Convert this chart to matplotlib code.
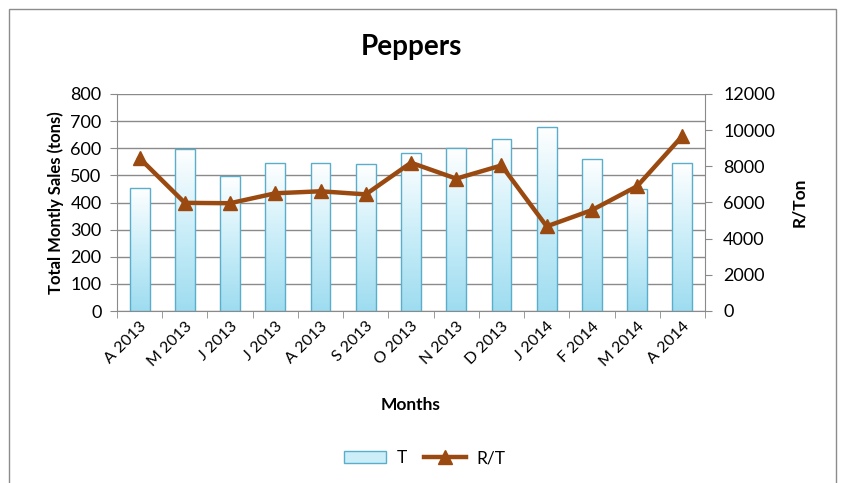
import matplotlib
matplotlib.use("Agg")
import matplotlib.pyplot as plt
import numpy as np
from matplotlib.patches import Rectangle
from matplotlib.colors import LinearSegmentedColormap

months = ["A 2013", "M 2013", "J 2013", "J 2013", "A 2013", "S 2013", "O 2013",
          "N 2013", "D 2013", "J 2014", "F 2014", "M 2014", "A 2014"]
tons = [455, 597, 497, 544, 544, 541, 581, 600, 633, 678, 559, 448, 544]
rand_per_ton = [8450, 5980, 5960, 6510, 6620, 6450, 8200, 7320, 8050, 4680, 5580, 6900, 9680]

plt.rcParams['font.family'] = ['Lato', 'DejaVu Sans']

fig = plt.figure(figsize=(8.43, 4.83), dpi=100)
fig.patch.set_facecolor('white')
fig.add_artist(Rectangle((9/843, -0.01), (836-9)/843, (483-9)/483 + 0.01,
                         transform=fig.transFigure, fill=False, edgecolor='#8c8c8c', lw=1.0))

ax = fig.add_axes([117/843, 1-311/483, (705-117)/843, (311-94)/483])
x = np.arange(len(months))
bars = ax.bar(x, tons, width=0.44, color='none', edgecolor='#5aaecb', linewidth=1.0, zorder=3)

cmap = LinearSegmentedColormap.from_list('bg', [(0, '#9edcf0'), (0.5, '#cbeef9'), (1, '#ffffff')])
grad = np.linspace(0, 1, 256).reshape(-1, 1)
for b in bars:
    x0, y0 = b.get_x(), b.get_y()
    w, h = b.get_width(), b.get_height()
    im = ax.imshow(grad, extent=(x0, x0 + w, y0, y0 + h), origin='lower', aspect='auto',
                   cmap=cmap, zorder=2)
    im.set_clip_path(b)

ax.set_xlim(-0.5, len(months) - 0.5)
ax.set_ylim(0, 800)
ax.set_yticks(np.arange(0, 801, 100))
ax.grid(axis='y', color='#8a8a8a', linewidth=1.0, zorder=0)
ax.set_axisbelow(True)
for s in ['top', 'right']:
    ax.spines[s].set_visible(False)
ax.spines['left'].set_color('#8a8a8a')
ax.spines['bottom'].set_color('#8a8a8a')
ax.set_xticks(x)
ax.set_xticklabels(months, rotation=45, ha='right', rotation_mode='anchor', fontsize=11.5)
ax.set_xticks(np.arange(-0.5, len(months), 1), minor=True)
ax.tick_params(axis='x', which='major', length=0, pad=6)
ax.tick_params(axis='x', which='minor', length=5, color='#8a8a8a', direction='out')
ax.tick_params(axis='y', length=5, color='#8a8a8a', labelsize=13, pad=6)
ax.set_ylabel('Total Montly Sales (tons)', fontsize=12, fontweight='bold', labelpad=5)
ax.set_xlabel('Months', fontsize=12.5, fontweight='bold', labelpad=20)

ax2 = ax.twinx()
ax2.set_ylim(0, 12000)
ax2.set_yticks(np.arange(0, 12001, 2000))
line, = ax2.plot(x, rand_per_ton, color='#9a4a10', linewidth=3.2, marker='^',
                 markersize=10, zorder=5)
for s in ['top', 'left', 'bottom']:
    ax2.spines[s].set_visible(False)
ax2.spines['right'].set_color('#8a8a8a')
ax2.tick_params(axis='y', length=5, color='#8a8a8a', labelsize=13, pad=8)
ax2.set_ylabel('R/Ton', fontsize=12.5, fontweight='bold', labelpad=12)

fig.text(0.4875, 1-47/483, 'Peppers', ha='center', va='center', fontsize=20, fontweight='bold')

proxy = Rectangle((0, 0), 1, 1, facecolor='#cbeef9', edgecolor='#5aaecb')
fig.legend([proxy, line], ['T', 'R/T'], loc='center', bbox_to_anchor=(0.504, 1-458/483),
           ncol=2, frameon=False, fontsize=12.5, handlelength=2.4, columnspacing=1.0,
           handletextpad=0.6)

fig.savefig('out.png', dpi=100, facecolor='white')
